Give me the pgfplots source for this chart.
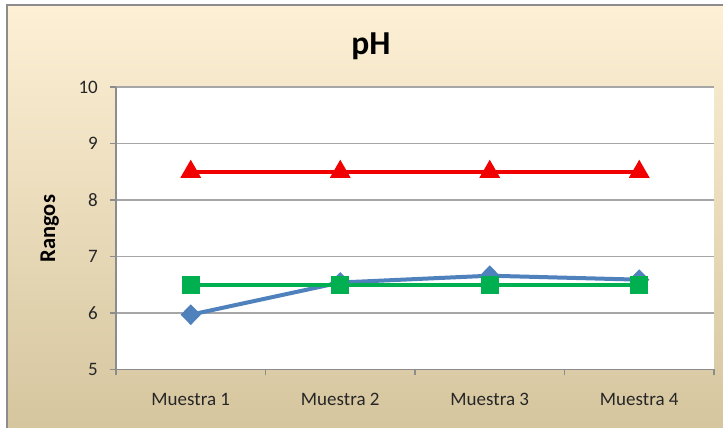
\documentclass[border=0pt]{standalone}
\usepackage{pgfplots}
\pgfplotsset{compat=1.18}
\usepackage{fontspec}
\setmainfont{Carlito}
\definecolor{bgtop}{HTML}{FDF0D5}
\definecolor{bgmid}{HTML}{F4E6C7}
\definecolor{bgbot}{HTML}{D5C59E}
\definecolor{framegray}{HTML}{8C8C8C}
\definecolor{gridgray}{HTML}{A6A6A6}
\definecolor{axgray}{HTML}{8C8C8C}
\definecolor{sred}{HTML}{F00000}
\definecolor{sgreen}{HTML}{00B050}
\definecolor{sblue}{HTML}{4F81BD}
\definecolor{txt}{HTML}{262626}
\begin{document}
\begin{tikzpicture}
\useasboundingbox (0,0) rectangle (723pt,428pt);
\fill[white] (0,0) rectangle (723pt,428pt);
\begin{scope}
\clip (0,0) rectangle (723pt,428pt);
\shade[top color=bgtop, middle color=bgmid, bottom color=bgbot] (7pt,-5pt) rectangle (740pt,423pt);
\draw[framegray, line width=2pt] (7pt,-5pt) rectangle (740pt,423pt);
\end{scope}
\begin{axis}[
  at={(116pt,58.5pt)}, anchor=south west,
  scale only axis, width=598pt, height=282.5pt,
  xmin=0.5, xmax=4.5, ymin=5, ymax=10,
  axis background/.style={fill=white},
  axis lines=left,
  axis line style={-, draw=axgray, line width=1.3pt},
  xtick={1,2,3,4},
  xticklabels={Muestra 1, Muestra 2, Muestra 3, Muestra 4},
  major x tick style={draw=none},
  minor xtick={0.5,1.5,2.5,3.5,4.5},
  minor x tick style={draw=axgray, line width=1.3pt},
  minor tick length=6pt,
  ytick={5,6,7,8,9,10},
  major y tick style={draw=axgray, line width=1.3pt},
  major tick length=6pt,
  tick align=outside,
  ymajorgrids,
  major grid style={draw=gridgray, line width=1.3pt},
  /pgf/number format/assume math mode=true,
  tick label style={font=\fontsize{19}{22}\selectfont, text=txt},
  yticklabel style={inner sep=0pt, xshift=-12pt},
  xticklabel style={inner sep=0pt, anchor=north, text height=12.3pt, text depth=4pt, yshift=-17.5pt},
  clip=false,
]
\addplot[sred, line width=4pt, mark=triangle*, mark size=8pt, mark options={solid, fill=sred, draw=none}] coordinates {(1,8.5) (2,8.5) (3,8.5) (4,8.5)};
\addplot[sblue, line width=4pt, mark=diamond*, mark size=7.5pt, mark options={solid, fill=sblue, draw=none, xscale=1.3}] coordinates {(1,5.97) (2,6.54) (3,6.66) (4,6.59)};
\addplot[sgreen, line width=4pt, mark=square*, mark size=7pt, mark options={solid, fill=sgreen, draw=none}] coordinates {(1,6.5) (2,6.5) (3,6.5) (4,6.5)};
\end{axis}
\node[anchor=base, text=black] at (371pt,373.7pt) {\fontsize{33.5}{40}\selectfont\bfseries pH};
\node[anchor=base, rotate=90, text=black] at (55pt,199.3pt) {\fontsize{22.5}{27}\selectfont\bfseries Rangos};
\end{tikzpicture}
\end{document}
